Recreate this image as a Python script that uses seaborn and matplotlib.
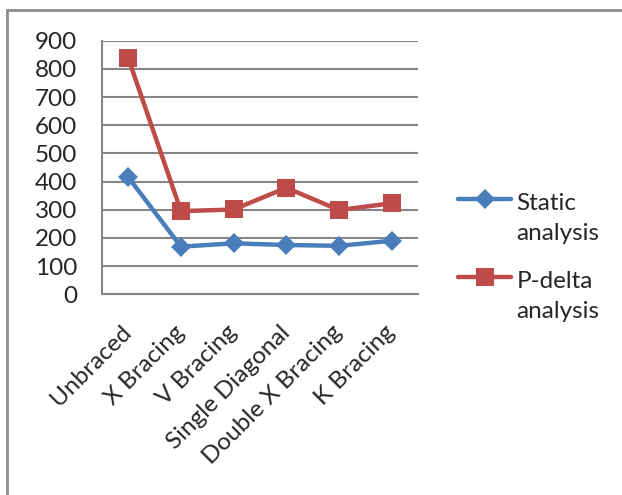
import matplotlib
matplotlib.use("Agg")
import matplotlib.pyplot as plt
import seaborn as sns
import pandas as pd
import numpy as np
from matplotlib.lines import Line2D
from matplotlib.patches import Rectangle
from matplotlib.legend_handler import HandlerLine2D

categories = ["Unbraced", "X Bracing", "V Bracing", "Single Diagonal",
              "Double X Bracing", "K Bracing"]
static_analysis = [415, 169, 181, 175, 172, 190]
pdelta_analysis = [837, 295, 301, 378, 299, 323]
series_names = ["Static\nanalysis", "P-delta\nanalysis"]
y_ticks = [0, 100, 200, 300, 400, 500, 600, 700, 800, 900]

BLUE = "#4A7EBB"
RED = "#BE4B48"
GRID = "#868686"
FS = 17.5

df = pd.DataFrame({
    "structure": categories * 2,
    "value": static_analysis + pdelta_analysis,
    "series": [series_names[0]] * 6 + [series_names[1]] * 6,
})

sns.set_theme(style="white")
plt.rcParams["font.family"] = ["Lato", "DejaVu Sans"]

fig = plt.figure(figsize=(6.22, 4.95), dpi=100)
ax = fig.add_axes([102 / 622, 1 - 294.3 / 495, (418 - 102) / 622, (294.3 - 40.7) / 495])

sns.lineplot(data=df, x="structure", y="value", hue="series", style="series",
             palette={series_names[0]: BLUE, series_names[1]: RED},
             markers={series_names[0]: "D", series_names[1]: "s"},
             dashes=False, linewidth=3.2, markersize=10, markeredgewidth=0,
             sort=False, legend=False, ax=ax, zorder=3)
# squares a bit larger than diamonds
for line in ax.lines:
    if line.get_marker() == "s":
        line.set_markersize(13)

ax.set_xlim(-0.5, len(categories) - 0.5)
ax.set_ylim(0, 900)
ax.set_yticks(y_ticks)
ax.set_yticklabels([str(v) for v in y_ticks], fontsize=FS)
ax.set_xticks(range(len(categories)))
ax.set_xticklabels(categories, fontsize=FS, rotation=45, ha="right", va="center",
                   rotation_mode="anchor")
ax.set_xticks(np.arange(-0.5, len(categories)), minor=True)
ax.tick_params(axis="x", which="major", length=0, pad=25)
ax.tick_params(axis="x", which="minor", length=6, width=1.5, color=GRID, direction="out")
ax.tick_params(axis="y", length=7, width=1.5, color=GRID, direction="out", pad=11)
ax.set_xlabel("")
ax.set_ylabel("")

ax.grid(axis="y", color=GRID, linewidth=1.5)
ax.set_axisbelow(True)
for side in ["top", "right"]:
    ax.spines[side].set_visible(False)
for side in ["left", "bottom"]:
    ax.spines[side].set_color(GRID)
    ax.spines[side].set_linewidth(1.5)


class FirstLineHandler(HandlerLine2D):
    """Place the legend key level with the first line of a two-line label."""

    def create_artists(self, legend, orig_handle, xdescent, ydescent,
                       width, height, fontsize, trans):
        artists = super().create_artists(legend, orig_handle, xdescent, ydescent,
                                         width, height, fontsize, trans)
        for a in artists:
            a.set_ydata(np.asarray(a.get_ydata()) + 0.8 * fontsize)
        return artists


handles = [
    Line2D([], [], color=BLUE, linewidth=3.2, marker="D", markersize=10, markeredgewidth=0),
    Line2D([], [], color=RED, linewidth=3.2, marker="s", markersize=13, markeredgewidth=0),
]
leg = fig.legend(handles, series_names, loc="upper left",
                 bbox_to_anchor=(458 / 622, 1 - 193 / 495),
                 frameon=False, fontsize=FS, handlelength=2.2, handletextpad=0.2,
                 labelspacing=1.15, borderaxespad=0, borderpad=0,
                 handler_map={Line2D: FirstLineHandler()})
for t in leg.get_texts():
    t.set_linespacing(1.5)

fig.patches.append(Rectangle((7 / 622, -0.1), 1.2, 1 - 10 / 495 + 0.1, transform=fig.transFigure,
                             fill=False, edgecolor="#8c8c8c", linewidth=2))

fig.savefig("out.png", dpi=100)
